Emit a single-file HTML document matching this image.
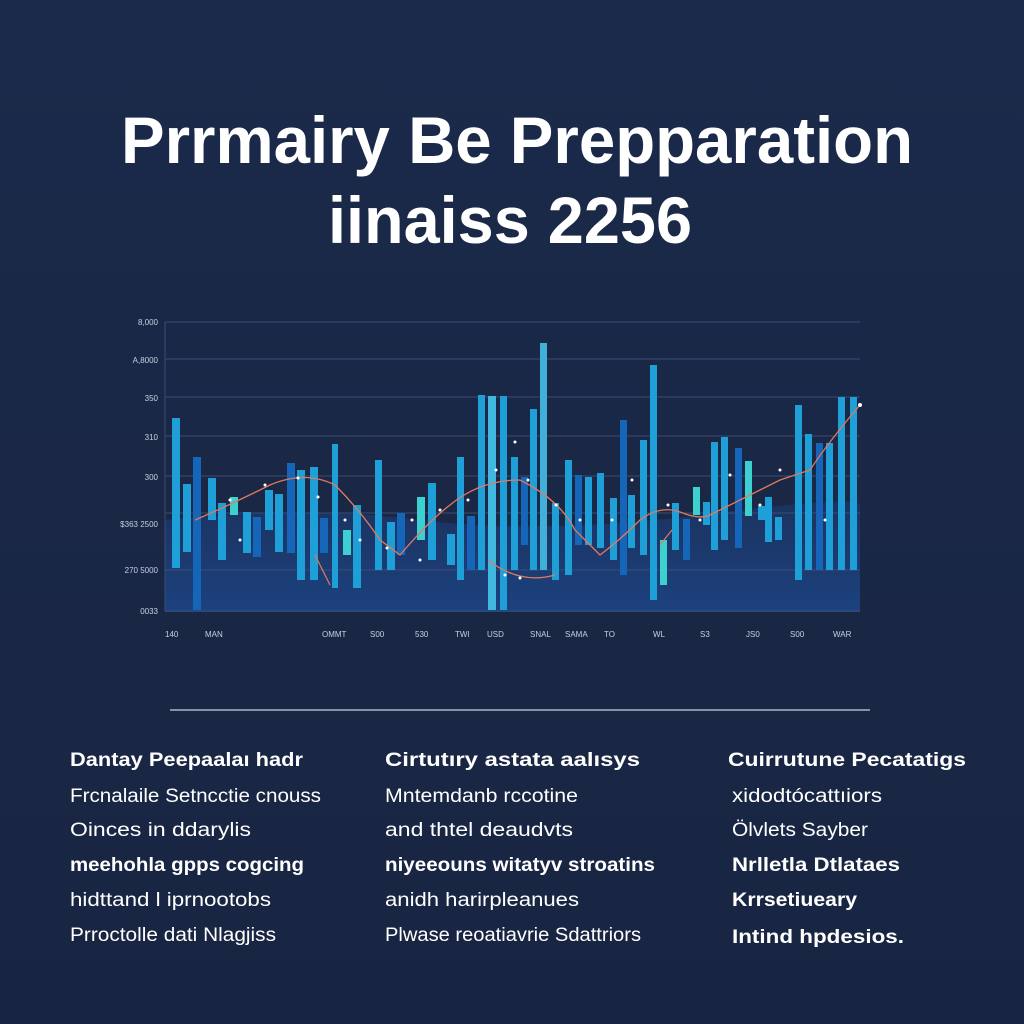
<!DOCTYPE html>
<html><head><meta charset="utf-8"><style>
html,body{margin:0;padding:0;background:#1a2744;}
svg{display:block}
</style></head><body>
<svg width="1024" height="1024" viewBox="0 0 1024 1024" xmlns="http://www.w3.org/2000/svg" font-family="Liberation Sans, sans-serif">
<defs>
<linearGradient id="bg" x1="0" y1="0" x2="0" y2="1"><stop offset="0" stop-color="#1b2a4a"/><stop offset="1" stop-color="#182542"/></linearGradient>
<linearGradient id="area" x1="0" y1="0" x2="0" y2="1"><stop offset="0" stop-color="#1c3f7a" stop-opacity="0.5"/><stop offset="1" stop-color="#1d4586" stop-opacity="0.9"/></linearGradient>
</defs>
<rect width="1024" height="1024" fill="url(#bg)"/>
<text x="517" y="163" fill="#fff" font-size="66" font-weight="bold" text-anchor="middle" textLength="792" lengthAdjust="spacingAndGlyphs">Prrmairy Be Prepparation</text>
<text x="510" y="243" fill="#fff" font-size="66" font-weight="bold" text-anchor="middle" textLength="364" lengthAdjust="spacingAndGlyphs">iinaiss 2256</text>
<path d="M165 520 Q300 505 420 520 T700 515 T860 505 L860 612 L165 612Z" fill="url(#area)"/>
<g stroke="#3a4d74" stroke-width="1">
<line x1="165" y1="322" x2="860" y2="322"/><line x1="165" y1="359" x2="860" y2="359"/><line x1="165" y1="397" x2="860" y2="397"/><line x1="165" y1="436" x2="860" y2="436"/><line x1="165" y1="476" x2="860" y2="476"/><line x1="165" y1="513" x2="860" y2="513"/><line x1="165" y1="570" x2="860" y2="570"/><line x1="165" y1="611" x2="860" y2="611"/>
<line x1="165" y1="322" x2="165" y2="611"/>
</g>
<g font-size="8" fill="#c8d0e0" text-anchor="end">
<text x="158" y="325">8,000</text><text x="158" y="363">A,8000</text><text x="158" y="401">350</text><text x="158" y="440">310</text><text x="158" y="480">300</text><text x="158" y="527">$363 2500</text><text x="158" y="573">270 5000</text><text x="158" y="614">0033</text>
</g>
<g font-size="8" fill="#c8d0e0">
<text x="165" y="637">140</text><text x="205" y="637">MAN</text><text x="322" y="637">OMMT</text><text x="370" y="637">S00</text><text x="415" y="637">530</text><text x="455" y="637">TWI</text><text x="487" y="637">USD</text><text x="530" y="637">SNAL</text><text x="565" y="637">SAMA</text><text x="604" y="637">TO</text><text x="653" y="637">WL</text><text x="700" y="637">S3</text><text x="746" y="637">JS0</text><text x="790" y="637">S00</text><text x="833" y="637">WAR</text>
</g>
<g>
<rect x="172" y="418" width="8" height="150" fill="#1e9fd8"/>
<rect x="183" y="484" width="8" height="68" fill="#1e9fd8"/>
<rect x="193" y="457" width="8" height="153" fill="#1565b8"/>
<rect x="208" y="478" width="8" height="42" fill="#1e9fd8"/>
<rect x="218" y="503" width="8" height="57" fill="#1e9fd8"/>
<rect x="230" y="497" width="8" height="18" fill="#3dd0d0"/>
<rect x="243" y="512" width="8" height="41" fill="#1e9fd8"/>
<rect x="253" y="517" width="8" height="40" fill="#1565b8"/>
<rect x="265" y="490" width="8" height="40" fill="#1e9fd8"/>
<rect x="275" y="494" width="8" height="58" fill="#1e9fd8"/>
<rect x="287" y="463" width="8" height="90" fill="#1565b8"/>
<rect x="297" y="470" width="8" height="110" fill="#1e9fd8"/>
<rect x="310" y="467" width="8" height="113" fill="#1e9fd8"/>
<rect x="320" y="518" width="8" height="35" fill="#1565b8"/>
<rect x="332" y="444" width="6" height="144" fill="#1e9fd8"/>
<rect x="353" y="505" width="8" height="83" fill="#1e9fd8"/>
<rect x="343" y="530" width="8" height="25" fill="#3dd0d0"/>
<rect x="375" y="460" width="7" height="110" fill="#1e9fd8"/>
<rect x="387" y="522" width="8" height="48" fill="#1e9fd8"/>
<rect x="397" y="513" width="8" height="42" fill="#1565b8"/>
<rect x="417" y="497" width="8" height="43" fill="#3dd0d0"/>
<rect x="428" y="483" width="8" height="77" fill="#1e9fd8"/>
<rect x="447" y="534" width="8" height="31" fill="#1e9fd8"/>
<rect x="457" y="457" width="7" height="123" fill="#1e9fd8"/>
<rect x="467" y="516" width="8" height="54" fill="#1565b8"/>
<rect x="478" y="395" width="7" height="175" fill="#1e9fd8"/>
<rect x="488" y="396" width="8" height="214" fill="#40b8e0"/>
<rect x="500" y="396" width="7" height="214" fill="#1e9fd8"/>
<rect x="511" y="457" width="7" height="113" fill="#1e9fd8"/>
<rect x="521" y="477" width="7" height="68" fill="#1565b8"/>
<rect x="530" y="409" width="7" height="161" fill="#1e9fd8"/>
<rect x="540" y="343" width="7" height="227" fill="#40b0d8"/>
<rect x="552" y="503" width="7" height="77" fill="#1e9fd8"/>
<rect x="565" y="460" width="7" height="115" fill="#1e9fd8"/>
<rect x="575" y="475" width="7" height="70" fill="#1565b8"/>
<rect x="585" y="477" width="7" height="68" fill="#1e9fd8"/>
<rect x="597" y="473" width="7" height="75" fill="#1e9fd8"/>
<rect x="610" y="498" width="7" height="62" fill="#1e9fd8"/>
<rect x="620" y="420" width="7" height="155" fill="#1565b8"/>
<rect x="628" y="495" width="7" height="53" fill="#1e9fd8"/>
<rect x="640" y="440" width="7" height="115" fill="#1e9fd8"/>
<rect x="650" y="365" width="7" height="235" fill="#1e9fd8"/>
<rect x="660" y="540" width="7" height="45" fill="#3dd0d0"/>
<rect x="672" y="503" width="7" height="47" fill="#1e9fd8"/>
<rect x="683" y="519" width="7" height="41" fill="#1565b8"/>
<rect x="693" y="487" width="7" height="28" fill="#3dd0d0"/>
<rect x="703" y="502" width="7" height="23" fill="#1e9fd8"/>
<rect x="711" y="442" width="7" height="108" fill="#1e9fd8"/>
<rect x="721" y="437" width="7" height="103" fill="#1e9fd8"/>
<rect x="735" y="448" width="7" height="100" fill="#1565b8"/>
<rect x="745" y="461" width="7" height="55" fill="#3dd0d0"/>
<rect x="758" y="506" width="7" height="14" fill="#1e9fd8"/>
<rect x="765" y="497" width="7" height="45" fill="#1e9fd8"/>
<rect x="775" y="517" width="7" height="23" fill="#1e9fd8"/>
<rect x="795" y="405" width="7" height="175" fill="#1e9fd8"/>
<rect x="805" y="434" width="7" height="136" fill="#1e9fd8"/>
<rect x="816" y="443" width="7" height="127" fill="#1565b8"/>
<rect x="826" y="443" width="7" height="127" fill="#1e9fd8"/>
<rect x="838" y="397" width="7" height="173" fill="#1e9fd8"/>
<rect x="850" y="397" width="7" height="173" fill="#1e9fd8"/>
</g>
<path d="M195 520 Q230 505 270 485 Q305 470 335 485 Q360 510 380 540 L400 555 Q430 520 450 505 Q480 480 520 480 Q560 500 575 530 L600 555 Q620 540 640 520 Q660 505 680 512 Q700 520 710 515 L740 500 Q760 490 780 480 L810 470 Q830 440 860 405" fill="none" stroke="#e07a5f" stroke-width="1.3"/>
<path d="M315 555 L330 585 M488 560 Q520 585 555 575 M660 545 L672 530" fill="none" stroke="#e07a5f" stroke-width="1.2"/>
<g fill="#fff">
<circle cx="230" cy="500" r="1.5"/><circle cx="265" cy="485" r="1.5"/><circle cx="298" cy="478" r="1.5"/><circle cx="318" cy="497" r="1.5"/><circle cx="345" cy="520" r="1.5"/><circle cx="360" cy="540" r="1.5"/><circle cx="387" cy="548" r="1.5"/><circle cx="412" cy="520" r="1.5"/><circle cx="440" cy="510" r="1.5"/><circle cx="468" cy="500" r="1.5"/><circle cx="496" cy="470" r="1.5"/><circle cx="515" cy="442" r="1.5"/><circle cx="528" cy="480" r="1.5"/><circle cx="556" cy="505" r="1.5"/><circle cx="580" cy="520" r="1.5"/><circle cx="612" cy="520" r="1.5"/><circle cx="632" cy="480" r="1.5"/><circle cx="668" cy="505" r="1.5"/><circle cx="700" cy="520" r="1.5"/><circle cx="730" cy="475" r="1.5"/><circle cx="760" cy="505" r="1.5"/><circle cx="780" cy="470" r="1.5"/><circle cx="825" cy="520" r="1.5"/><circle cx="860" cy="405" r="2"/><circle cx="505" cy="575" r="1.5"/><circle cx="520" cy="578" r="1.5"/><circle cx="240" cy="540" r="1.5"/><circle cx="420" cy="560" r="1.5"/>
</g>
<line x1="170" y1="710" x2="870" y2="710" stroke="#c8d0e0" stroke-width="1.2"/>
<g fill="#fff" font-size="19" lengthAdjust="spacingAndGlyphs">
<text x="70" y="766" font-weight="bold" textLength="233" lengthAdjust="spacingAndGlyphs">Dantay  Peepaalaı hadr</text>
<text x="70" y="802" textLength="251" lengthAdjust="spacingAndGlyphs">Frcnalaile Setncctie cnouss</text>
<text x="70" y="836" textLength="181" lengthAdjust="spacingAndGlyphs">Oinces in ddarylis</text>
<text x="70" y="871" font-weight="bold" textLength="234" lengthAdjust="spacingAndGlyphs">meehohla gpps cogcing</text>
<text x="70" y="906" textLength="201" lengthAdjust="spacingAndGlyphs">hidttand l iprnootobs</text>
<text x="70" y="941" textLength="206" lengthAdjust="spacingAndGlyphs">Prroctolle dati Nlagjiss</text>
<text x="385" y="766" font-weight="bold" textLength="255" lengthAdjust="spacingAndGlyphs">Cirtutıry astata aalısys</text>
<text x="385" y="802" textLength="193" lengthAdjust="spacingAndGlyphs">Mntemdanb rccotine</text>
<text x="385" y="836" textLength="188" lengthAdjust="spacingAndGlyphs">and thtel deaudvts</text>
<text x="385" y="871" font-weight="bold" textLength="270" lengthAdjust="spacingAndGlyphs">niyeeouns witatyv stroatins</text>
<text x="385" y="906" textLength="194" lengthAdjust="spacingAndGlyphs">anidh harirpleanues</text>
<text x="385" y="941" textLength="256" lengthAdjust="spacingAndGlyphs">Plwase reoatiavrie Sdattriors</text>
<text x="728" y="766" font-weight="bold" textLength="238" lengthAdjust="spacingAndGlyphs">Cuirrutune  Pecatatigs</text>
<text x="732" y="802" textLength="150" lengthAdjust="spacingAndGlyphs">xidodtócattıiors</text>
<text x="732" y="836" textLength="136" lengthAdjust="spacingAndGlyphs">Ölvlets Sayber</text>
<text x="732" y="871" font-weight="bold" textLength="168" lengthAdjust="spacingAndGlyphs">Nrlletla Dtlataes</text>
<text x="732" y="906" font-weight="bold" textLength="125" lengthAdjust="spacingAndGlyphs">Krrsetiueary</text>
<text x="732" y="943" font-weight="bold" textLength="172" lengthAdjust="spacingAndGlyphs">Intind hpdesios.</text>
</g>
</svg>
</body></html>
